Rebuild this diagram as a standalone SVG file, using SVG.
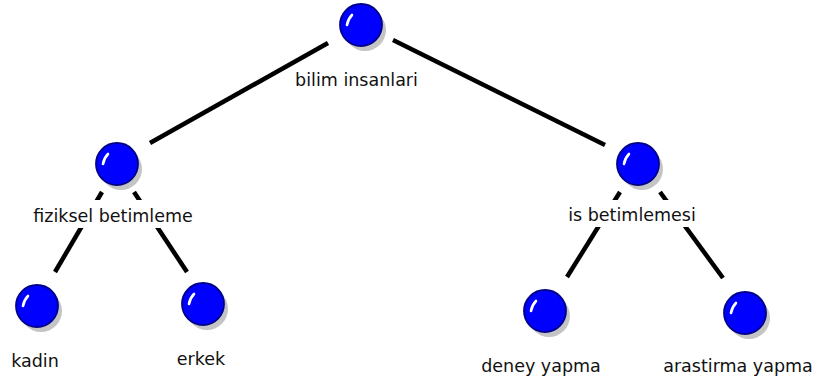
<svg xmlns="http://www.w3.org/2000/svg" width="818" height="383" viewBox="0 0 818 383">
<style>
.edge{stroke:#000;stroke-width:4.5;stroke-linecap:butt;fill:none}
.lbl{font-family:"DejaVu Sans",Verdana,sans-serif;font-size:17.5px;fill:#111;text-anchor:middle}
.bg{fill:#fff}
</style>
<defs>
<g id="ball">
<circle cx="4" cy="5" r="21" fill="#c4c4c4"/>
<circle cx="0" cy="0" r="21" fill="#0000ff" stroke="#000088" stroke-width="1.8"/>
<path d="M -14,0 Q -13,-6 -9,-10" stroke="#fff" stroke-width="2.6" fill="none" stroke-linecap="round"/>
</g>
</defs>
<rect width="818" height="383" fill="#fff"/>
<g id="connectors">
<line class="edge" x1="328" y1="43" x2="150" y2="143"/>
<line class="edge" x1="393" y1="40" x2="605" y2="145"/>
<line class="edge" x1="102" y1="192" x2="55" y2="272"/>
<line class="edge" x1="134" y1="192" x2="187" y2="272"/>
<line class="edge" x1="620" y1="192" x2="567" y2="277"/>
<line class="edge" x1="660" y1="192" x2="723" y2="278"/>
</g>
<g id="n-bilim">
<use href="#ball" x="361" y="25"/>
<text class="lbl" x="356.5" y="86">bilim insanlari</text>
</g>
<g id="n-fiziksel">
<use href="#ball" x="117" y="164"/>
<rect class="bg" x="30" y="200" width="168" height="28"/>
<text class="lbl" x="113" y="222">fiziksel betimleme</text>
</g>
<g id="n-is">
<use href="#ball" x="638" y="164"/>
<rect class="bg" x="563" y="200" width="138" height="27"/>
<text class="lbl" x="632" y="221">is betimlemesi</text>
</g>
<g id="n-kadin">
<use href="#ball" x="37" y="306"/>
<text class="lbl" x="35" y="367">kadin</text>
</g>
<g id="n-erkek">
<use href="#ball" x="203" y="304"/>
<text class="lbl" x="201" y="365">erkek</text>
</g>
<g id="n-deney">
<use href="#ball" x="545" y="311"/>
<text class="lbl" x="541" y="372">deney yapma</text>
</g>
<g id="n-arastirma">
<use href="#ball" x="745" y="313"/>
<text class="lbl" x="738" y="372">arastirma yapma</text>
</g>
</svg>
